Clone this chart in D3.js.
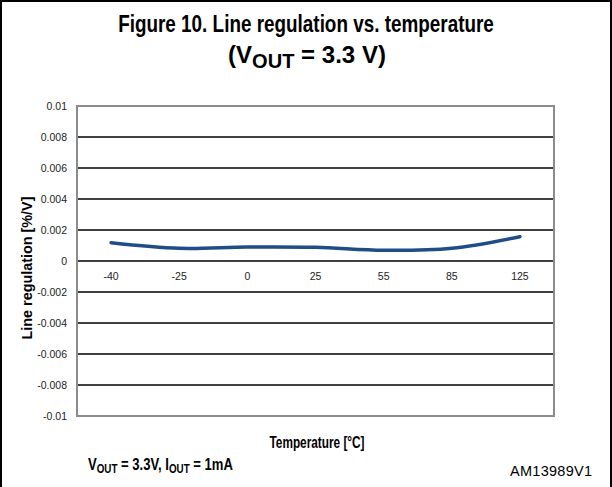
<!DOCTYPE html>
<html>
<head>
<meta charset="utf-8">
<script src="https://cdn.jsdelivr.net/npm/d3@7/dist/d3.min.js"></script>
<style>
  body { margin: 0; background: #fff; }
  svg { display: block; }
  text { font-family: "Liberation Sans", Arial, sans-serif; }
  .tick text { font-size: 10.5px; fill: #222; }
</style>
</head>
<body>
<div class="chart"></div>
<script>
// temperature categories and measured line regulation (%/V)
var temps = ["-40", "-25", "0", "25", "55", "85", "125"];
var lineReg = [0.00118, 0.00082, 0.0009, 0.00088, 0.00069, 0.00082, 0.00157];
var yTicks = [0.01, 0.008, 0.006, 0.004, 0.002, 0, -0.002, -0.004, -0.006, -0.008, -0.01];
var yTickLabels = ["0.01", "0.008", "0.006", "0.004", "0.002", "0", "-0.002", "-0.004", "-0.006", "-0.008", "-0.01"];

var W = 612, H = 487;
var plot = {left: 77, right: 554, top: 106, bottom: 416};

var svg = d3.select(".chart").append("svg")
    .attr("width", W)
    .attr("height", H);

// outer frame (left, top, right)
svg.append("path")
    .attr("d", "M1,487 V1 H611 V487")
    .attr("fill", "none")
    .attr("stroke", "#000")
    .attr("stroke-width", 2);

// the original uses a narrow bold face; squeeze normal text to the width it had
function narrow(cx, cy, width, size, anchor, rot) {
    var t = svg.append("text")
        .attr("text-anchor", anchor)
        .style("font-weight", "bold")
        .style("font-size", size + "px");
    t.fit = function () {
        var sx = width / t.node().getComputedTextLength();
        t.attr("transform", "translate(" + cx + "," + cy + ")" + (rot ? " rotate(" + rot + ")" : "") + " scale(" + sx + ",1)");
        return t;
    };
    return t;
}

// title
narrow(306, 32, 376, 23, "middle").text("Figure 10. Line regulation vs. temperature").fit();
var t2 = narrow(307, 63, 158, 24, "middle");
t2.append("tspan").text("(V");
t2.append("tspan").attr("dy", 5).style("font-size", "20px").text("OUT");
t2.append("tspan").attr("dy", -5).text(" = 3.3 V)");
t2.fit();

var x = d3.scaleBand().domain(temps).range([plot.left, plot.right]);
var y = d3.scaleLinear().domain([-0.01, 0.01]).range([plot.bottom, plot.top]);

// gridlines
svg.append("g")
    .selectAll("line")
    .data(yTicks.filter(function (d) { return Math.abs(d) < 0.01; }))
    .enter().append("line")
    .attr("x1", plot.left)
    .attr("x2", plot.right)
    .attr("y1", function (d) { return y(d); })
    .attr("y2", function (d) { return y(d); })
    .attr("stroke", "#000")
    .attr("stroke-width", 1.6);

// plot frame
svg.append("rect")
    .attr("x", plot.left)
    .attr("y", plot.top)
    .attr("width", plot.right - plot.left)
    .attr("height", plot.bottom - plot.top)
    .attr("fill", "none")
    .attr("stroke", "#8c8c8c")
    .attr("stroke-width", 2);

// y axis labels
var yAxis = d3.axisLeft(y)
    .tickValues(yTicks)
    .tickSize(0)
    .tickPadding(10)
    .tickFormat(function (d, i) { return yTickLabels[i]; });
svg.append("g")
    .attr("transform", "translate(" + plot.left + ",0)")
    .call(yAxis)
    .call(function (g) { g.select(".domain").remove(); });

// x axis labels sit under the zero line
var xAxis = d3.axisBottom(x).tickSize(0).tickPadding(12);
svg.append("g")
    .attr("transform", "translate(0," + y(0) + ")")
    .call(xAxis)
    .call(function (g) { g.select(".domain").remove(); });

// series line
var line = d3.line()
    .x(function (d, i) { return x(temps[i]) + x.bandwidth() / 2; })
    .y(function (d) { return y(d); })
    .curve(d3.curveCatmullRom.alpha(0.5));

svg.append("path")
    .datum(lineReg)
    .attr("d", line)
    .attr("fill", "none")
    .attr("stroke", "#1f4e86")
    .attr("stroke-width", 3.5)
    .attr("stroke-linecap", "round");

// axis titles
narrow(32, 268, 143, 14, "middle", -90).text("Line regulation [%/V]").fit();
narrow(317, 448, 95, 16, "middle").text("Temperature [°C]").fit();

// conditions note
var note = narrow(88, 470, 145, 16, "start");
note.append("tspan").text("V");
note.append("tspan").attr("dy", 3).style("font-size", "12px").text("OUT");
note.append("tspan").attr("dy", -3).text(" = 3.3V, I");
note.append("tspan").attr("dy", 3).style("font-size", "12px").text("OUT");
note.append("tspan").attr("dy", -3).text(" = 1mA");
note.fit();

svg.append("text")
    .attr("x", 592)
    .attr("y", 476)
    .attr("text-anchor", "end")
    .style("font-size", "14.5px")
    .attr("textLength", 82)
    .text("AM13989V1");
</script>
</body>
</html>
